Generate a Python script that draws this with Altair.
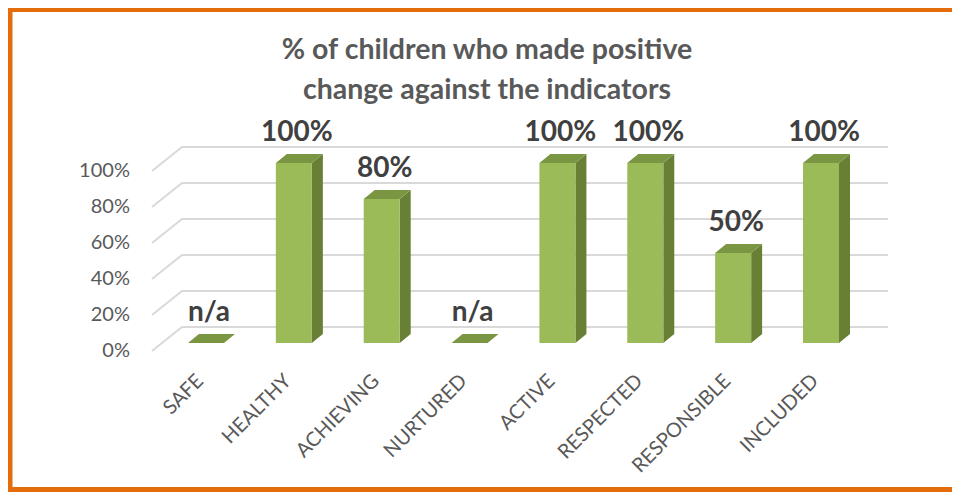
import altair as alt
import pandas as pd

# ---- data ----
categories = ["SAFE", "HEALTHY", "ACHIEVING", "NURTURED", "ACTIVE",
              "RESPECTED", "RESPONSIBLE", "INCLUDED"]
values = [None, 100, 80, None, 100, 100, 50, 100]   # None = n/a
y_ticks = [0, 20, 40, 60, 80, 100]
y_tick_labels = ["0%", "20%", "40%", "60%", "80%", "100%"]
title_lines = ["% of children who made positive",
               "change against the indicators"]

# ---- 3D geometry (style constants, in scale units) ----
HW = 0.205      # half bar width (category units)
DX = 0.125      # bar depth, x
DY = 5.0        # bar depth, y (percentage points)
WALL_X0, WALL_X1, WALL_END = -0.615, -0.273, 7.762
FLOOR_DY, WALL_DY = -4.4, 8.9
XLAB_SHIFT = -0.065

FONT = "Lato"
FRONT, SIDE, TOP = "#9BBB59", "#687F36", "#7A9642"
GRID = "#D9D9D9"
TXT = "#595959"
LBL = "#404040"
ORANGE = "#E46C0A"
ORANGE_L = "#E46C0B"

idx = list(range(len(categories)))
heights = [0 if v is None else v for v in values]
labels = ["n/a" if v is None else f"{v}%" for v in values]

bars = pd.DataFrame({"cat": categories, "i": idx, "h": heights, "label": labels})

side_rows, top_rows = [], []
for c, i, hh in zip(categories, idx, heights):
    if hh > 0:
        side_rows.append({"cat": c, "x": i + HW, "lo": 0, "hi": hh})
        side_rows.append({"cat": c, "x": i + HW + DX, "lo": DY, "hi": hh + DY})
    top_rows.append({"cat": c, "y": hh, "xl": i - HW, "xr": i + HW})
    top_rows.append({"cat": c, "y": hh + DY, "xl": i - HW + DX, "xr": i + HW + DX})
side = pd.DataFrame(side_rows)
top = pd.DataFrame(top_rows)

grid_rows = []
for t in y_ticks:
    grid_rows.append({"t": t, "o": 0, "x": WALL_X0, "y": t + FLOOR_DY})
    grid_rows.append({"t": t, "o": 1, "x": WALL_X1, "y": t + WALL_DY})
    grid_rows.append({"t": t, "o": 2, "x": WALL_END, "y": t + WALL_DY})
grid = pd.DataFrame(grid_rows)

ylab = pd.DataFrame({"t": y_ticks, "label": y_tick_labels})

xs = alt.Scale(domain=[0, 7], range=[198, 813], nice=False, zero=False)
ys = alt.Scale(domain=[0, 100], range=[335, 155], nice=False, zero=False)

def X(f):
    return alt.X(f, type="quantitative", scale=xs, axis=None)

def Y(f):
    return alt.Y(f, type="quantitative", scale=ys, axis=None)

one = alt.Data(values=[{"a": 1}])

def band(x1, x2, y1, y2, col):
    return alt.Chart(one).mark_rect(color=col, strokeWidth=0).encode(
        x=alt.value(x1), x2=alt.value(x2), y=alt.value(y1), y2=alt.value(y2))

b_top = band(0, 1000, 0, 4, ORANGE)
b_left = band(0, 4.5, 0, 484, ORANGE_L)
b_bot = band(0, 1000, 479, 484, ORANGE)

grid_layer = alt.Chart(grid).mark_line(color=GRID, strokeWidth=2).encode(
    x=X("x"), y=Y("y"), detail="t:N", order="o:Q")

ylab_layer = alt.Chart(ylab).transform_calculate(
    xx=f"{WALL_X0}", yy=f"datum.t + {FLOOR_DY}"
).mark_text(align="right", baseline="middle", dx=-22, font=FONT,
            fontSize=20, color=TXT).encode(x=X("xx"), y=Y("yy"), text="label:N")

side_layer = alt.Chart(side).mark_area(color=SIDE, orient="vertical").encode(
    x=X("x"), y=Y("lo"), y2="hi", detail="cat:N")

top_layer = alt.Chart(top).mark_area(color=TOP, orient="horizontal").encode(
    y=Y("y"), x=X("xl"), x2="xr", detail="cat:N")

front_layer = alt.Chart(bars).transform_filter("datum.h > 0").transform_calculate(
    x1=f"datum.i - {HW}", x2=f"datum.i + {HW}", y0="0"
).mark_rect(color=FRONT).encode(x=X("x1"), x2="x2", y=Y("y0"), y2="h")

val_layer = alt.Chart(bars).mark_text(
    baseline="middle", dx=3, dy=-30, font=FONT, fontSize=28,
    fontWeight="bold", color=LBL
).encode(x=X("i"), y=Y("h"), text="label:N")

xlab_layer = alt.Chart(bars).transform_calculate(
    xl=f"datum.i + {XLAB_SHIFT}"
).mark_text(align="right", baseline="middle", angle=315, font=FONT,
            fontSize=20, color=TXT).encode(
    x=X("xl"), y=alt.value(370), text="cat:N")

t1 = alt.Chart(one).mark_text(font=FONT, fontSize=28.5, fontWeight="bold",
                              color=TXT, baseline="middle").encode(
    x=alt.value(479), y=alt.value(42), text=alt.value(title_lines[0]))
t2 = alt.Chart(one).mark_text(font=FONT, fontSize=28.5, fontWeight="bold",
                              color=TXT, baseline="middle").encode(
    x=alt.value(479), y=alt.value(82), text=alt.value(title_lines[1]))

chart = alt.layer(
    b_top, b_left, b_bot, grid_layer, ylab_layer, side_layer, top_layer,
    front_layer, val_layer, xlab_layer, t1, t2
).properties(
    width=944, height=484, autosize=alt.AutoSizeParams(type="none"),
    padding=0, background="white"
).configure_view(stroke=None)

chart.save("out.html", embed_options={"renderer": "svg", "actions": False})
